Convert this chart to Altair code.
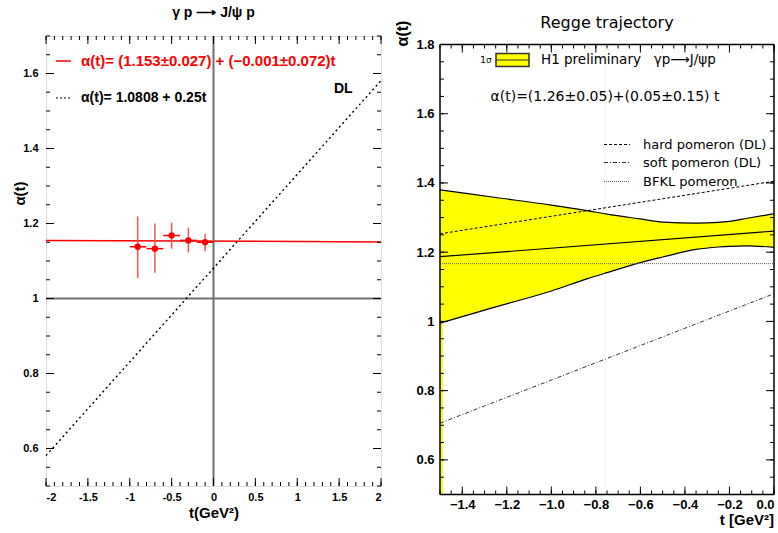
import altair as alt
import pandas as pd
import numpy as np

# ---------------- left panel data ----------------
pt_t = [-0.905, -0.70, -0.50, -0.30, -0.10]
pt_alpha = [1.138, 1.133, 1.168, 1.155, 1.150]
pt_alpha_lo = [1.055, 1.069, 1.133, 1.123, 1.126]
pt_alpha_hi = [1.219, 1.200, 1.202, 1.189, 1.173]
pt_t_lo = [-1.00, -0.80, -0.60, -0.40, -0.20]
pt_t_hi = [-0.80, -0.60, -0.40, -0.20, 0.00]
fit_t = [-2.0, 2.0]
fit_alpha = [1.155, 1.151]
dl_t = [-2.0, 2.0]
dl_alpha = [0.581, 1.581]
ref_alpha = [1.0]
ref_t = [0.0]
left_xticks = [-2, -1.5, -1, -0.5, 0, 0.5, 1, 1.5, 2]
left_yticks = [0.6, 0.8, 1.0, 1.2, 1.4, 1.6]
left_xminor = list(np.round(np.arange(-2.0, 2.0001, 0.1), 2))
left_yminor = list(np.round(np.arange(0.5, 1.7001, 0.05), 2))

# ---------------- right panel data ----------------
band_t = [-1.5, -1.25, -1.0, -0.84, -0.75, -0.6, -0.5, -0.35, -0.25, -0.2, -0.12, 0.0]
band_hi = [1.380, 1.358, 1.336, 1.320, 1.310, 1.296, 1.287, 1.284, 1.286, 1.289, 1.298, 1.311]
band_lo = [0.995, 1.042, 1.088, 1.123, 1.141, 1.170, 1.186, 1.208, 1.215, 1.217, 1.218, 1.214]
line_t = [-1.5, 0.0]
cent_alpha = [1.187, 1.261]
hard_alpha = [1.253, 1.405]
soft_alpha = [0.706, 1.080]
bfkl_alpha = [1.167, 1.167]
edge_t = [-1.5]
edge_lo = [0.5]
edge_hi = [0.995]
faint_t = [-0.76]
right_xticks = [-1.4, -1.2, -1.0, -0.8, -0.6, -0.4, -0.2, 0.0]
right_yticks = [0.6, 0.8, 1.0, 1.2, 1.4, 1.6, 1.8]
right_xminor = list(np.round(np.arange(-1.5, 0.0001, 0.05), 2))
right_yminor = list(np.round(np.arange(0.5, 1.8001, 0.05), 2))

FONT = "Liberation Sans"
RFONT = "DejaVu Sans"

LW, LH = 335, 450
RW, RPH = 334, 450      # right plot frame size
ROFF = 8.5              # right frame sits lower than the left one
RH = RPH + ROFF         # right view height

# ---------------- axes / scales ----------------
lxs = alt.Scale(domain=[-2, 2], nice=False, zero=False)
lys = alt.Scale(domain=[0.5, 1.7], nice=False, zero=False)
rxs = alt.Scale(domain=[-1.5, 0], nice=False, zero=False)
rys = alt.Scale(domain=[0.5, 1.8], nice=False, zero=False, range=[RH, ROFF])

lxa = alt.Axis(values=left_xticks, ticks=False, domain=False, grid=False, labelExpr="toString(datum.value)",
               labelFont=FONT, labelFontSize=11, labelFontWeight="bold", labelPadding=5, labelColor="black",
               title="t(GeV²)", titleFont=FONT, titleFontSize=15, titleFontWeight="bold", titlePadding=3,
               titleColor="black")
lya = alt.Axis(values=left_yticks, ticks=False, domain=False, grid=False, labelExpr="toString(datum.value)",
               labelFont=FONT, labelFontSize=11, labelFontWeight="bold", labelPadding=8, labelColor="black",
               title="α(t)", titleFont=FONT, titleFontSize=15, titleFontWeight="bold", titleColor="black",
               titleAngle=270, titleX=-27, titleY=157, titleAlign="center", titleBaseline="middle")
rxa = alt.Axis(values=right_xticks, ticks=False, domain=False, grid=False,
               labelFont=FONT, labelFontSize=13, labelFontWeight="bold", labelPadding=4, labelColor="black",
               title=None)
rya = alt.Axis(values=right_yticks, ticks=False, domain=False, grid=False, labelExpr="toString(datum.value)",
               labelFont=FONT, labelFontSize=13, labelFontWeight="bold", labelPadding=6, labelColor="black",
               title=None)


def X(f, s, a, **kw):
    return alt.X(f, scale=s, axis=a, **kw)


def Y(f, s, a, **kw):
    return alt.Y(f, scale=s, axis=a, **kw)


def ticks(xmaj, xmin, ymaj, ymin, xs, ys, xa, ya, W, H, top=0):
    out = []
    for vals, L in [(xmaj, 8), (xmin, 4)]:
        d = pd.DataFrame({"v": vals})
        b = alt.Chart(d).mark_rule(color="black", strokeWidth=1)
        out.append(b.encode(x=X("v:Q", xs, xa), y=alt.value(H), y2=alt.value(H - L)))
        out.append(b.encode(x=X("v:Q", xs, xa), y=alt.value(top), y2=alt.value(top + L)))
    for vals, L in [(ymaj, 8), (ymin, 4)]:
        d = pd.DataFrame({"v": vals})
        b = alt.Chart(d).mark_rule(color="black", strokeWidth=1)
        out.append(b.encode(y=Y("v:Q", ys, ya), x=alt.value(0), x2=alt.value(L)))
        out.append(b.encode(y=Y("v:Q", ys, ya), x=alt.value(W), x2=alt.value(W - L)))
    return out


def txt(s, x, y, size=13, color="black", weight="normal", align="left", font=FONT, angle=0):
    return alt.Chart(pd.DataFrame({"d": [0]})).mark_text(
        align=align, baseline="middle", fontSize=size, color=color, fontWeight=weight, font=font,
        angle=angle
    ).encode(x=alt.value(x), y=alt.value(y), text=alt.value(s))


def seg(x1, x2, y, color="black", dash=None, width=1.2):
    kw = dict(color=color, strokeWidth=width)
    if dash:
        kw["strokeDash"] = dash
    return alt.Chart(pd.DataFrame({"d": [0]})).mark_rule(**kw).encode(
        x=alt.value(x1), x2=alt.value(x2), y=alt.value(y)
    )


def vseg(x, y1, y2, color="black", width=1.5):
    return alt.Chart(pd.DataFrame({"d": [0]})).mark_rule(color=color, strokeWidth=width).encode(
        x=alt.value(x), y=alt.value(y1), y2=alt.value(y2))


# ---------------- left panel ----------------
fit_df = pd.DataFrame({"t": fit_t, "a": fit_alpha})
main_left = alt.Chart(fit_df).mark_line(color="#ff0000", strokeWidth=1.5).encode(
    x=X("t:Q", lxs, lxa), y=Y("a:Q", lys, lya))

ref_h = alt.Chart(pd.DataFrame({"a": ref_alpha})).mark_rule(color="#707070", strokeWidth=2).encode(
    y=Y("a:Q", lys, lya))
ref_v = alt.Chart(pd.DataFrame({"t": ref_t})).mark_rule(color="#707070", strokeWidth=2).encode(
    x=X("t:Q", lxs, lxa))
dl_line = alt.Chart(pd.DataFrame({"t": dl_t, "a": dl_alpha})).mark_line(
    color="black", strokeWidth=1.4, strokeDash=[2, 3]).encode(
    x=X("t:Q", lxs, lxa), y=Y("a:Q", lys, lya))

pts = pd.DataFrame({"t": pt_t, "a": pt_alpha, "lo": pt_alpha_lo, "hi": pt_alpha_hi,
                    "tlo": pt_t_lo, "thi": pt_t_hi})
ebar_v = alt.Chart(pts).mark_rule(color="#ff5050", strokeWidth=1.5).encode(
    x=X("t:Q", lxs, lxa), y=Y("lo:Q", lys, lya), y2="hi:Q")
ebar_h = alt.Chart(pts).mark_rule(color="#ff0000", strokeWidth=1.5).encode(
    x=X("tlo:Q", lxs, lxa), x2="thi:Q", y=Y("a:Q", lys, lya))
dots = alt.Chart(pts).mark_point(filled=True, shape="circle", size=40, color="#ff0000", opacity=1).encode(
    x=X("t:Q", lxs, lxa), y=Y("a:Q", lys, lya))

left_layers = [main_left, ref_h, ref_v, dl_line, ebar_v, ebar_h, dots,
               seg(10, 25, 25, color="#ff0000", width=1.5),
               txt("α(t)= (1.153±0.027) + (−0.001±0.072)t", 35, 25, size=15, color="#ff0000", weight="bold"),
               seg(10, 25, 62, color="black", dash=[2, 2], width=1.2),
               txt("α(t)= 1.0808 + 0.25t", 35, 62, size=14, weight="bold"),
               txt("DL", 288, 53, size=14, weight="bold"),
               txt("γ p ⟶ J/ψ p", LW / 2, -23.5, size=14, weight="bold", align="center")]
left_layers += ticks(left_xticks, left_xminor, left_yticks, left_yminor, lxs, lys, lxa, lya, LW, LH)

left = alt.layer(*left_layers).properties(width=LW, height=LH)

# ---------------- right panel ----------------
band_df = pd.DataFrame({"t": band_t, "hi": band_hi, "lo": band_lo})
band = alt.Chart(band_df).mark_area(color="#ffff00", opacity=1, interpolate="monotone").encode(
    x=X("t:Q", rxs, rxa), y=Y("lo:Q", rys, rya), y2="hi:Q")
band_hi_line = alt.Chart(band_df).mark_line(color="black", strokeWidth=1.2, interpolate="monotone").encode(
    x=X("t:Q", rxs, rxa), y=Y("hi:Q", rys, rya))
band_lo_line = alt.Chart(band_df).mark_line(color="black", strokeWidth=1.2, interpolate="monotone").encode(
    x=X("t:Q", rxs, rxa), y=Y("lo:Q", rys, rya))

edge_df = pd.DataFrame({"t": edge_t, "lo": edge_lo, "hi": edge_hi})
edge = alt.Chart(edge_df).mark_rule(color="#ffff00", strokeWidth=2, xOffset=2).encode(
    x=X("t:Q", rxs, rxa), y=Y("lo:Q", rys, rya), y2="hi:Q")
faint = alt.Chart(pd.DataFrame({"t": faint_t})).mark_rule(color="#f8f8d0", strokeWidth=1).encode(
    x=X("t:Q", rxs, rxa), y=alt.value(ROFF), y2=alt.value(RH))

lines_df = pd.DataFrame({"t": line_t, "cent": cent_alpha, "hard": hard_alpha,
                         "soft": soft_alpha, "bfkl": bfkl_alpha})
cent = alt.Chart(lines_df).mark_line(color="black", strokeWidth=1.2).encode(
    x=X("t:Q", rxs, rxa), y=Y("cent:Q", rys, rya))
hard = alt.Chart(lines_df).mark_line(color="black", strokeWidth=1, strokeDash=[3, 2]).encode(
    x=X("t:Q", rxs, rxa), y=Y("hard:Q", rys, rya))
soft = alt.Chart(lines_df).mark_line(color="#333333", strokeWidth=1, strokeDash=[4, 2, 1, 2]).encode(
    x=X("t:Q", rxs, rxa), y=Y("soft:Q", rys, rya))
bfkl = alt.Chart(lines_df).mark_line(color="#666666", strokeWidth=1, strokeDash=[1, 1]).encode(
    x=X("t:Q", rxs, rxa), y=Y("bfkl:Q", rys, rya))

legend_rect = alt.Chart(pd.DataFrame({"d": [0]})).mark_rect(
    fill="#ffff00", stroke="#333333", strokeWidth=1.5).encode(
    x=alt.value(56), x2=alt.value(89), y=alt.value(ROFF + 9), y2=alt.value(ROFF + 22))

NB = "\u00a0"
O = ROFF
right_layers = [faint, band, edge, band_hi_line, band_lo_line, cent, hard, soft, bfkl,
                legend_rect, seg(56, 89, O + 15.5, color="#333333", width=1),
                txt("1σ", 46, O + 15, size=9, font=RFONT, align="center"),
                txt("H1 preliminary" + NB * 3 + "γp⟶J/ψp", 101, O + 15, size=13.5, font=RFONT),
                txt("α(t)=(1.26±0.05)+(0.05±0.15) t", 165, O + 52, size=14, font=RFONT, align="center"),
                seg(164, 190, O + 100, dash=[3, 2], width=1),
                txt("hard pomeron (DL)", 203, O + 100, size=13, font=RFONT),
                seg(164, 190, O + 118, color="#333333", dash=[4, 2, 1, 2], width=1),
                txt("soft pomeron (DL)", 203, O + 118, size=13, font=RFONT),
                seg(164, 190, O + 137, color="#666666", dash=[1, 1], width=1),
                txt("BFKL pomeron", 203, O + 137, size=13, font=RFONT),
                txt("α(t)", -37, O - 11, size=16, weight="bold", align="center", angle=270),
                txt("Regge trajectory", RW / 2, -13.5, size=16, font=RFONT, align="center"),
                txt("t [GeV²]", RW, RH + 25, size=15, weight="bold", align="right"),
                # frame
                seg(0, RW, O, width=1.5), seg(0, RW, RH, width=1.5),
                vseg(0, O, RH), vseg(RW, O, RH)]
right_layers += ticks(right_xticks, right_xminor, right_yticks, right_yminor, rxs, rys, rxa, rya, RW, RH, top=O)

right = alt.layer(*right_layers).properties(
    width=RW, height=RH, view=alt.ViewBackground(stroke=None))

chart = alt.hconcat(left, right, spacing=10).properties(
    padding={"left": 11, "top": 5, "right": 0, "bottom": 0}
).configure_view(stroke="black", strokeWidth=1.5).configure(background="white")

chart.save("out.html", embed_options={"renderer": "svg", "actions": False})
